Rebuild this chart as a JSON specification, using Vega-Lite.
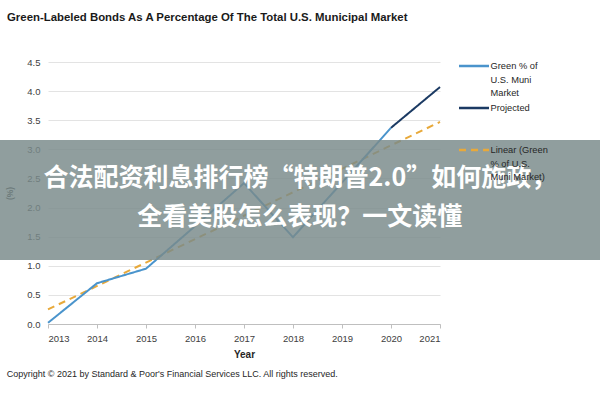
{
  "$schema": "https://vega.github.io/schema/vega-lite/v6.json",
  "autosize": {"type": "none"},
  "width": 392,
  "height": 262,
  "padding": {"left": 48, "top": 62, "right": 160, "bottom": 76},
  "background": "white",
  "title": {
    "text": "Green-Labeled Bonds As A Percentage Of The Total U.S. Municipal Market",
    "anchor": "start",
    "frame": "group",
    "dx": -41,
    "font": "Liberation Sans",
    "fontSize": 11.4,
    "fontWeight": "bold",
    "color": "#1a1a1a",
    "offset": 34
  },
  "config": {
    "view": {"stroke": null},
    "axis": {"labelFont": "Liberation Sans", "titleFont": "Liberation Sans", "labelColor": "#404040", "titleColor": "#262626"},
    "axisY": {"tickCount": 10},
    "legend": {"labelFont": "Liberation Sans"}
  },
  "layer": [
    {
      "data": {
        "values": [
          {"year": 2013, "value": 0.25, "series": "Linear (Green % of U.S. Muni Market)"},
          {"year": 2021, "value": 3.47, "series": "Linear (Green % of U.S. Muni Market)"},
          {"year": 2013, "value": 0.02, "series": "Green % of U.S. Muni Market"},
          {"year": 2014, "value": 0.70, "series": "Green % of U.S. Muni Market"},
          {"year": 2015, "value": 0.95, "series": "Green % of U.S. Muni Market"},
          {"year": 2016, "value": 1.68, "series": "Green % of U.S. Muni Market"},
          {"year": 2017, "value": 2.42, "series": "Green % of U.S. Muni Market"},
          {"year": 2018, "value": 1.49, "series": "Green % of U.S. Muni Market"},
          {"year": 2019, "value": 2.43, "series": "Green % of U.S. Muni Market"},
          {"year": 2020, "value": 3.37, "series": "Green % of U.S. Muni Market"},
          {"year": 2020, "value": 3.37, "series": "Projected"},
          {"year": 2021, "value": 4.07, "series": "Projected"}
        ]
      },
      "mark": {"type": "line", "strokeWidth": 2},
      "encoding": {
        "x": {
          "field": "year", "type": "quantitative",
          "scale": {"domain": [2013, 2021], "nice": false, "zero": false},
          "axis": {
            "title": "Year", "values": [2013, 2014, 2015, 2016, 2017, 2018, 2019, 2020, 2021], "format": "d",
            "grid": false, "domainColor": "#bfbfbf", "tickColor": "#bfbfbf", "tickSize": 4,
            "labelFontSize": 9.5, "labelPadding": 5, "titleFontSize": 10, "titleFontWeight": "bold", "titlePadding": 7
          }
        },
        "y": {
          "field": "value", "type": "quantitative",
          "scale": {"domain": [0, 4.5], "nice": false},
          "axis": {
            "title": "(%)", "values": [0, 0.5, 1, 1.5, 2, 2.5, 3, 3.5, 4, 4.5], "format": ".1f", "labelOverlap": false,
            "ticks": false, "domain": false, "gridColor": "#e3e3e3",
            "labelFontSize": 9.5, "labelPadding": 8, "titleFontSize": 8.5, "titleFontWeight": "bold", "titlePadding": 12
          }
        },
        "color": {
          "field": "series", "type": "nominal",
          "scale": {
            "domain": ["Green % of U.S. Muni Market", "Projected", "Linear (Green % of U.S. Muni Market)"],
            "range": ["#4a94cc", "#1b3a63", "#e8a93a"]
          },
          "legend": {
            "title": null, "orient": "none", "legendX": 417, "legendY": -5, "padding": 0,
            "symbolType": "M-2,0H2", "symbolSize": 225, "symbolStrokeWidth": 2.5,
            "labelFontSize": 9.3, "labelColor": "#262626", "labelOffset": 7.5, "labelBaseline": "middle",
            "gridAlign": "all", "rowPadding": 0, "labelLimit": 200,
            "encode": {"labels": {"update": {"lineHeight": {"value": 13.5}}}},
            "labelExpr": "datum.label == 'Projected' ? ['Projected', ' ', ' '] : datum.label == 'Green % of U.S. Muni Market' ? ['Green % of', 'U.S. Muni', 'Market'] : ['Linear (Green', '% of U.S.', 'Muni Market)']"
          }
        },
        "strokeDash": {
          "field": "series", "type": "nominal",
          "scale": {
            "domain": ["Green % of U.S. Muni Market", "Projected", "Linear (Green % of U.S. Muni Market)"],
            "range": [[1, 0], [1, 0], [7, 5]]
          },
          "legend": null
        }
      }
    },
    {
      "data": {"values": [{}]},
      "mark": {"type": "rect", "fill": "#7a8a8a", "opacity": 0.83},
      "encoding": {
        "x": {"datum": 2011, "axis": {"title": "Year", "values": [2013, 2014, 2015, 2016, 2017, 2018, 2019, 2020, 2021], "format": "d"}},
        "x2": {"datum": 2025},
        "y": {"datum": 1.1, "axis": {"title": "(%)", "values": [0, 0.5, 1, 1.5, 2, 2.5, 3, 3.5, 4, 4.5], "format": ".1f"}},
        "y2": {"datum": 3.16}
      }
    },
    {
      "data": {"values": [{}]},
      "mark": {"type": "text", "font": "Noto Sans CJK SC", "fontSize": 25, "fontWeight": "bold", "color": "white", "align": "center", "baseline": "middle", "lineHeight": 39},
      "encoding": {
        "x": {"datum": 2018.14, "axis": {"title": "Year", "values": [2013, 2014, 2015, 2016, 2017, 2018, 2019, 2020, 2021], "format": "d"}},
        "y": {"datum": 2.51, "axis": {"title": "(%)", "values": [0, 0.5, 1, 1.5, 2, 2.5, 3, 3.5, 4, 4.5], "format": ".1f"}},
        "text": {"value": ["合法配资利息排行榜“特朗普2.0”如何施政，", "全看美股怎么表现？一文读懂"]}
      }
    },
    {
      "data": {"values": [{}]},
      "mark": {"type": "text", "font": "Liberation Sans", "fontSize": 9, "color": "#262626", "align": "left", "baseline": "middle"},
      "encoding": {
        "x": {"datum": 2012.16, "axis": {"title": "Year", "values": [2013, 2014, 2015, 2016, 2017, 2018, 2019, 2020, 2021], "format": "d"}},
        "y": {"datum": -0.86, "axis": {"title": "(%)", "values": [0, 0.5, 1, 1.5, 2, 2.5, 3, 3.5, 4, 4.5], "format": ".1f"}},
        "text": {"value": "Copyright © 2021 by Standard & Poor's Financial Services LLC. All rights reserved."}
      }
    }
  ]
}
